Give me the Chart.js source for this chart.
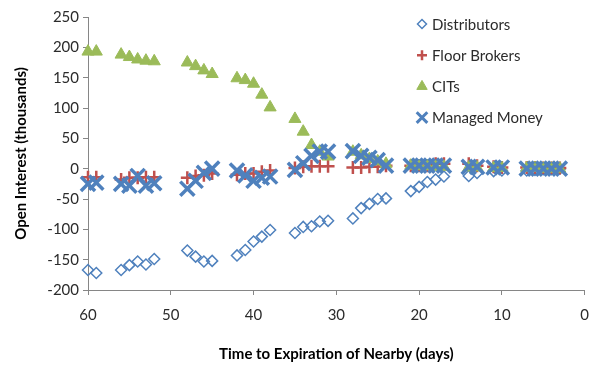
<!DOCTYPE html>
<html>
<head>
<meta charset="utf-8">
<script src="https://cdn.jsdelivr.net/npm/chart.js@4.4.1/dist/chart.umd.min.js"></script>
<style>
  html, body { margin: 0; padding: 0; background: #ffffff; }
  #wrap { width: 600px; height: 370px; }
</style>
</head>
<body>
<div id="wrap"><canvas id="c" width="600" height="370"></canvas></div>
<script>
// ---- data ----
const days = [60,59, 56,55,54,53,52, 48,47,46,45, 42,41,40,39,38, 35,34,33,32,31, 28,27,26,25,24, 21,20,19,18,17, 14,13,11,10, 7,6,5,4,3];
const distributors = [-167,-172, -167,-159,-153,-158,-149, -135,-145,-153,-152, -143,-134,-120,-112,-101, -106,-96,-95,-87,-86, -82,-65,-58,-50,-49, -37,-30,-22,-18,-13, -12,-7,-4,-3, -3,-2,-1,-1,0];
const floorBrokers = [-14,-14, -18,-15,-15,-14,-14, -15,-12,-11,-8, -10,-8,-8,-5,-3, 1,3,4,4,4, 2,2,3,3,5, 5,5,5,8,8, 8,5,3,2, 2,2,1,1,1];
const cits = [193,193, 188,184,180,178,177, 175,169,162,156, 149,146,140,122,101, 82,61,39,28,20, 28,22,16,12,8, 5,4,4,3,3, 2,2,1,1, 1,1,0,0,0];
const managedMoney = [-25,-23, -25,-28,-12,-28,-24, -33,-20,-7,0, -3,-11,-20,-15,-13, -2,9,21,28,28, 29,21,18,14,5, 5,5,5,5,5, 3,3,2,2, 0,0,0,0,0];
const seriesNames = ['Distributors', 'Floor Brokers', 'CITs', 'Managed Money'];
const xTickValues = [60, 50, 40, 30, 20, 10, 0];
const yTickValues = [250, 200, 150, 100, 50, 0, -50, -100, -150, -200];

const toPoints = (vals) => days.map((d, i) => ({ x: d, y: vals[i] }));

const BLUE = '#4F81BD', RED = '#C0504D', GREEN = '#9BBB59';
const FONT = 'Lato, "Liberation Sans", sans-serif';
const TEXT = '#2b2b2b';
const AXIS = '#868686';

const legendStyles = [
  { pointStyle: 'rectRot', radius: 4.5, borderWidth: 1.5, borderColor: BLUE, backgroundColor: 'rgba(0,0,0,0)' },
  { pointStyle: 'cross', radius: 5, borderWidth: 2.5, borderColor: RED, backgroundColor: RED },
  { pointStyle: 'triangle', radius: 6, borderWidth: 1, borderColor: GREEN, backgroundColor: GREEN },
  { pointStyle: 'crossRot', radius: 7.5, borderWidth: 3, borderColor: BLUE, backgroundColor: BLUE }
];

const customLegend = {
  id: 'customLegend',
  afterDraw(chart) {
    const ctx = chart.ctx;
    const x0 = 422, y0 = 24, gap = 31.2;
    ctx.save();
    seriesNames.forEach((name, i) => {
      const s = legendStyles[i];
      const y = y0 + i * gap;
      ctx.strokeStyle = s.borderColor;
      ctx.fillStyle = s.backgroundColor;
      ctx.lineWidth = s.borderWidth;
      Chart.helpers.drawPoint(ctx, { pointStyle: s.pointStyle, radius: s.radius, borderWidth: s.borderWidth, rotation: 0 }, x0, y);
      ctx.fillStyle = TEXT;
      ctx.font = '15px ' + FONT;
      ctx.textBaseline = 'middle';
      ctx.textAlign = 'left';
      ctx.fillText(name, x0 + 10, y + 1);
    });
    ctx.restore();
  }
};

new Chart(document.getElementById('c'), {
  type: 'scatter',
  data: {
    datasets: [
      { label: seriesNames[0], data: toPoints(distributors), order: 4, clip: false,
        pointStyle: 'rectRot', pointRadius: 5.5, pointHoverRadius: 5.5, pointBorderWidth: 1.5,
        borderColor: BLUE, backgroundColor: 'rgba(0,0,0,0)' },
      { label: seriesNames[1], data: toPoints(floorBrokers), order: 3, clip: false,
        pointStyle: 'cross', pointRadius: 6.5, pointHoverRadius: 6.5, pointBorderWidth: 2.5,
        borderColor: RED, backgroundColor: RED },
      { label: seriesNames[2], data: toPoints(cits), order: 2, clip: false,
        pointStyle: 'triangle', pointRadius: 7, pointHoverRadius: 7, pointBorderWidth: 1,
        borderColor: GREEN, backgroundColor: GREEN },
      { label: seriesNames[3], data: toPoints(managedMoney), order: 1, clip: false,
        pointStyle: 'crossRot', pointRadius: 10, pointHoverRadius: 10, pointBorderWidth: 3.5,
        borderColor: BLUE, backgroundColor: BLUE }
    ]
  },
  options: {
    responsive: false,
    animation: false,
    devicePixelRatio: 1,
    layout: { padding: { top: 17, right: 8, left: 0, bottom: 0 } },
    plugins: { legend: { display: false }, tooltip: { enabled: false } },
    scales: {
      x: {
        type: 'linear', reverse: true, min: 0, max: 60,
        afterBuildTicks: (s) => { s.ticks = xTickValues.map(v => ({ value: v })); },
        afterFit: (s) => { s.height = 80; },
        ticks: { color: TEXT, font: { family: FONT, size: 15 }, padding: 11, maxRotation: 0 },
        grid: { drawOnChartArea: false, drawTicks: true, tickLength: 5, color: AXIS },
        border: { color: AXIS, width: 1 },
        title: { display: true, text: 'Time to Expiration of Nearby (days)', color: '#000000',
                 font: { family: FONT, size: 15, weight: 'bold' }, padding: { top: 4, bottom: 7 } }
      },
      y: {
        min: -200, max: 250,
        afterBuildTicks: (s) => { s.ticks = yTickValues.map(v => ({ value: v })); },
        afterFit: (s) => { s.width = 88; },
        ticks: { color: TEXT, font: { family: FONT, size: 15 }, padding: 4 },
        grid: { drawOnChartArea: false, drawTicks: true, tickLength: 5, color: AXIS },
        border: { color: AXIS, width: 1 },
        title: { display: true, text: 'Open Interest (thousands)', color: '#000000',
                 font: { family: FONT, size: 15, weight: 'bold' }, padding: { top: 12, bottom: 4 } }
      }
    }
  },
  plugins: [customLegend]
});
</script>
</body>
</html>
